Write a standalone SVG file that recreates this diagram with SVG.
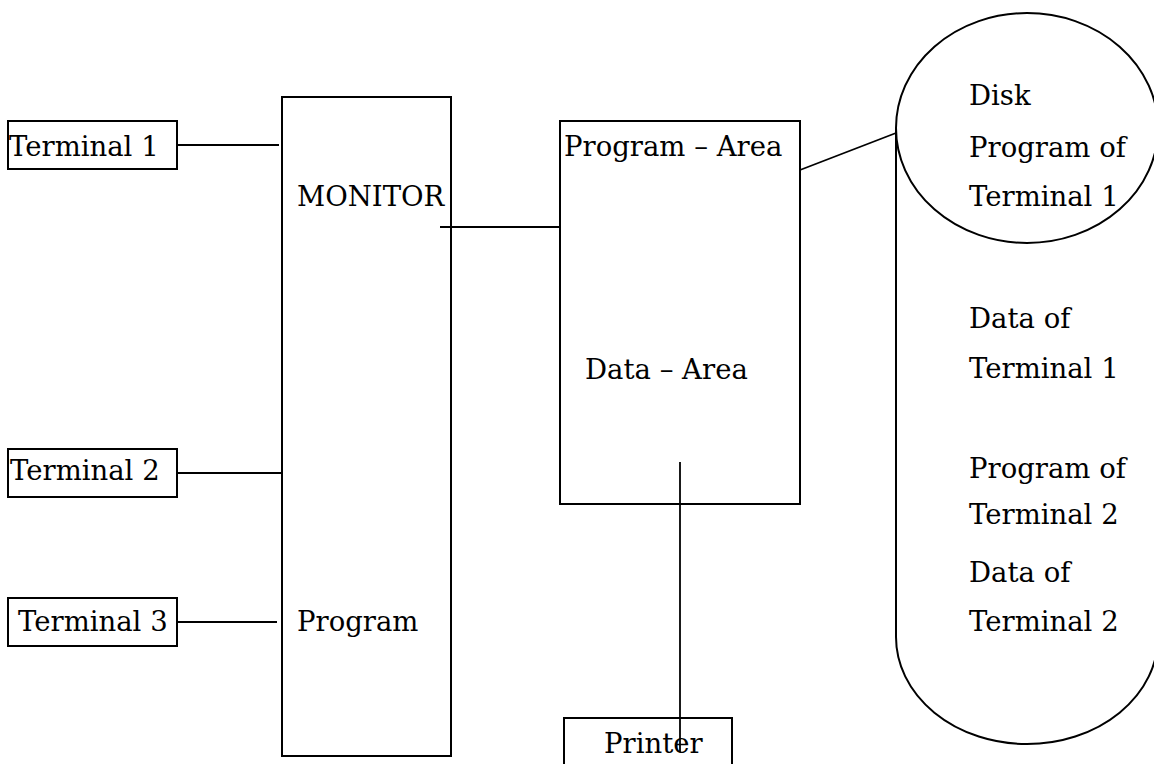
<svg xmlns="http://www.w3.org/2000/svg" width="1154" height="764" viewBox="0 0 1154 764">
<style>
  .box { fill: #fff; stroke: #000; stroke-width: 2; }
  .shape { fill: none; stroke: #000; stroke-width: 2; }
  .conn line { stroke: #000; stroke-width: 1.8; }
  text { font-family: "DejaVu Serif", "Liberation Serif", serif; font-size: 27.5px; fill: #000; }
</style>
<rect width="1154" height="764" fill="#fff"/>
<g id="terminal1">
  <rect class="box" x="8" y="121" width="169" height="48"/>
  <text x="9" y="156">Terminal 1</text>
</g>
<g id="terminal2">
  <rect class="box" x="8" y="449" width="169" height="48"/>
  <text x="10" y="480">Terminal 2</text>
</g>
<g id="terminal3">
  <rect class="box" x="8" y="598" width="169" height="48"/>
  <text x="18" y="631">Terminal 3</text>
</g>
<g id="monitor">
  <rect class="box" x="282" y="97" width="169" height="659"/>
  <text x="297" y="206">MONITOR</text>
  <text x="297" y="631">Program</text>
</g>
<g id="memory">
  <rect class="box" x="560" y="121" width="240" height="383"/>
  <text x="564" y="156">Program – Area</text>
  <text x="585" y="379">Data – Area</text>
</g>
<g id="printer">
  <rect class="box" x="564" y="718" width="168" height="60"/>
  <text x="604" y="753">Printer</text>
</g>
<g id="disk">
  <path class="shape" d="M896,128 V637 A131,107 0 0 0 1158,637 V128"/>
  <ellipse class="shape" cx="1027" cy="128" rx="131" ry="115"/>
  <text x="969" y="105">Disk</text>
  <text x="969" y="157">Program of</text>
  <text x="969" y="206">Terminal 1</text>
  <text x="969" y="328">Data of</text>
  <text x="969" y="378">Terminal 1</text>
  <text x="969" y="478">Program of</text>
  <text x="969" y="524">Terminal 2</text>
  <text x="969" y="582">Data of</text>
  <text x="969" y="631">Terminal 2</text>
</g>
<g id="connectors" class="conn">
  <line x1="177" y1="145" x2="279" y2="145"/>
  <line x1="177" y1="473" x2="282" y2="473"/>
  <line x1="177" y1="622" x2="277" y2="622"/>
  <line x1="440" y1="227" x2="560" y2="227"/>
  <line x1="800" y1="170" x2="896" y2="133"/>
  <line x1="680" y1="462" x2="680" y2="752"/>
</g>
</svg>
